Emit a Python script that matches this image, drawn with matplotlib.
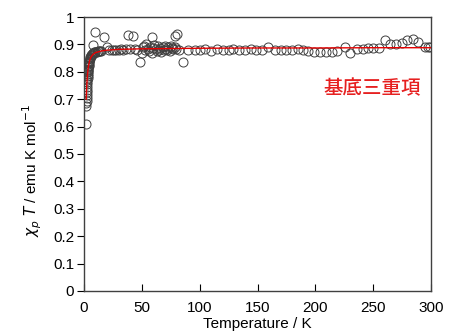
import numpy as np
import matplotlib.pyplot as plt

plt.rcParams['font.family'] = ['Liberation Sans', 'Noto Sans CJK JP', 'DejaVu Sans']

# measured chi_p*T (open circles)
temp = [2.0, 2.1, 2.2, 2.3, 2.4, 2.5, 2.6, 2.7, 2.8, 2.9, 3.0, 3.1, 3.2, 3.3, 3.4, 3.5,
        3.6, 3.7, 3.8, 3.9, 4.0, 4.2, 4.4, 4.6, 4.8, 5.0, 5.3, 5.6, 6.0, 6.4, 6.8,
        7.2, 7.6, 8.0, 8.5, 9.0, 9.5, 10.0, 11.0, 12.0, 13.0, 14.0, 15.0,
        8.0, 9.5, 17.3, 19.6, 22.0, 24.0, 26.0, 28.0, 30.0, 32.0, 34.0, 36.0,
        38.3, 42.6, 40.0, 44.0, 46.0, 48.4, 49.8, 51.0, 52.0, 53.0, 54.0, 55.0,
        56.0, 57.0, 58.5, 59.0, 60.0, 61.0, 62.0, 63.0, 64.0, 65.0, 66.0, 67.0,
        68.0, 69.0, 70.0, 71.0, 72.0, 73.0, 74.0, 75.0, 76.0, 77.0, 78.6, 80.6,
        79.0, 80.0, 82.0, 85.8,
        90.0, 96.0, 100.3, 105.0, 110.0, 115.0, 120.0, 125.0, 129.0, 134.0, 139.0,
        144.0, 149.0, 153.5, 159.0, 165.0, 170.0, 175.0, 180.0, 185.0, 189.5,
        194.0, 199.0, 204.0, 209.0, 214.0, 219.0, 225.6, 230.0, 235.7, 241.0,
        245.5, 250.0, 255.0, 260.0, 264.5, 269.6, 274.6, 278.9, 284.6, 289.0,
        294.7, 297.6, 299.0]
chiT = [0.610, 0.675, 0.685, 0.695, 0.705, 0.715, 0.725, 0.735, 0.745, 0.755, 0.762,
        0.770, 0.778, 0.785, 0.792, 0.798, 0.803, 0.808, 0.812, 0.816, 0.820, 0.826,
        0.832, 0.837, 0.841, 0.845, 0.849, 0.853, 0.857, 0.860, 0.863, 0.865, 0.867,
        0.868, 0.870, 0.871, 0.872, 0.873, 0.874, 0.875, 0.876, 0.876, 0.877,
        0.898, 0.946, 0.928, 0.892, 0.878, 0.880, 0.879, 0.881, 0.880, 0.882, 0.881,
        0.883, 0.934, 0.931, 0.882, 0.884, 0.878, 0.837, 0.867, 0.890, 0.895, 0.880,
        0.900, 0.884, 0.875, 0.892, 0.926, 0.870, 0.888, 0.898, 0.885, 0.877, 0.893,
        0.880, 0.886, 0.872, 0.890, 0.881, 0.895, 0.884, 0.879, 0.889, 0.876, 0.893,
        0.887, 0.882, 0.931, 0.937, 0.890, 0.885, 0.880, 0.837,
        0.880, 0.881, 0.879, 0.882, 0.877, 0.884, 0.878, 0.880, 0.883, 0.881, 0.880,
        0.882, 0.879, 0.881, 0.889, 0.881, 0.880, 0.879, 0.881, 0.884, 0.880,
        0.875, 0.874, 0.874, 0.874, 0.874, 0.876, 0.892, 0.870, 0.885, 0.885,
        0.887, 0.888, 0.887, 0.916, 0.901, 0.901, 0.906, 0.916, 0.918, 0.910,
        0.892, 0.892, 0.892]

# fitted curve (ground triplet)
fit_t = [2.0, 2.5, 3.0, 3.5, 4.0, 5.0, 6.0, 8.0, 10.0, 15.0, 20.0, 30.0, 50.0,
         100.0, 150.0, 200.0, 250.0, 300.0]
fit_chiT = [0.700, 0.750, 0.785, 0.806, 0.822, 0.842, 0.853, 0.864, 0.870, 0.876,
            0.879, 0.882, 0.884, 0.886, 0.887, 0.887, 0.888, 0.888]

fig = plt.figure(figsize=(4.51, 3.34), dpi=100)
ax = fig.add_axes([0.186, 0.129, 0.770, 0.820])

ax.plot(temp, chiT, 'o', ms=6.5, mfc='none', mec='#404040', mew=0.7, zorder=2)
ax.plot(fit_t, fit_chiT, '-', color='#e60000', lw=1.0, zorder=3)

ax.set_xlim(0, 300)
ax.set_ylim(0, 1)
ax.set_xticks(np.arange(0, 301, 50))
ax.set_yticks(np.arange(0, 1.01, 0.1))
ax.set_yticklabels(['0', '0.1', '0.2', '0.3', '0.4', '0.5', '0.6', '0.7', '0.8', '0.9', '1'])
ax.tick_params(axis='x', direction='in', length=5, labelsize=11, pad=7)
ax.tick_params(axis='y', direction='out', length=5, labelsize=11, pad=2)
for s in ax.spines.values():
    s.set_color('#404040')
    s.set_linewidth(1.0)

ax.set_xlabel('Temperature / K', fontsize=11, labelpad=2)
ax.set_ylabel(r'$\chi_p$ $T$ / emu K mol$^{-1}$', fontsize=11)
ax.yaxis.set_label_coords(-0.115, 0.44)

ax.text(0.97, 0.74, '基底三重項', transform=ax.transAxes, color='#e62020',
        fontsize=14, ha='right', va='center', fontweight='medium',
        family=['Noto Sans CJK JP', 'DejaVu Sans'])

fig.savefig('out.png', dpi=100)
